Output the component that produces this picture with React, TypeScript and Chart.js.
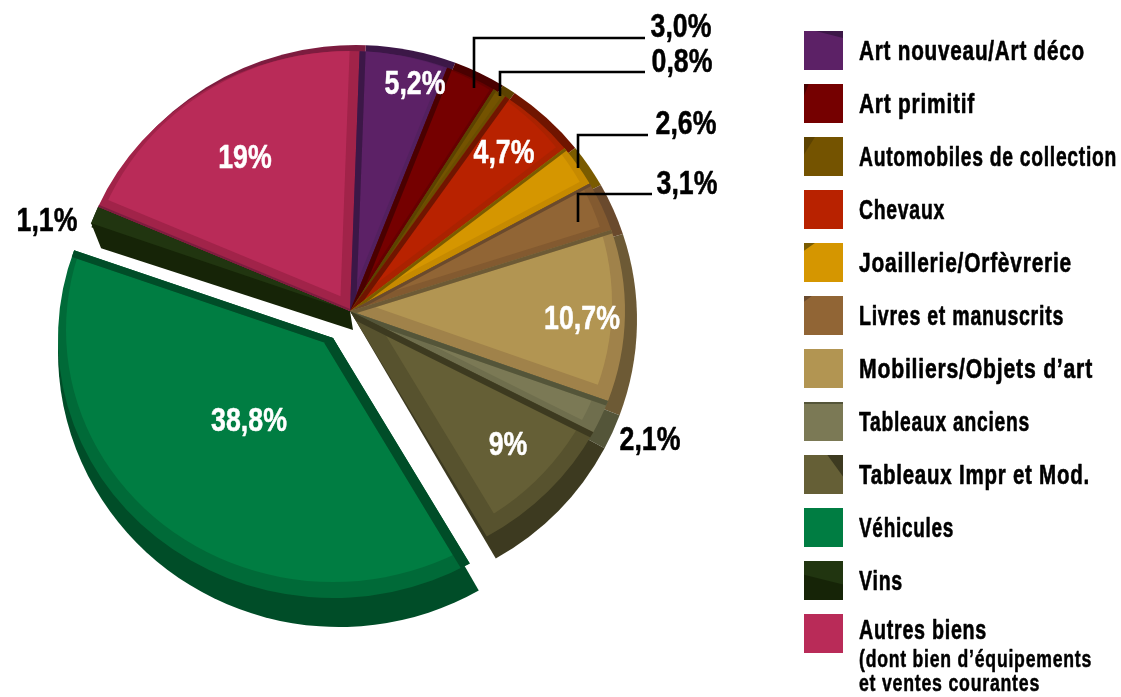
import React, { useEffect, useRef } from "react";
import { Chart, ArcElement, PieController } from "chart.js";

Chart.register(ArcElement, PieController);

const categories = [
  "Art nouveau/Art déco",
  "Art primitif",
  "Automobiles de collection",
  "Chevaux",
  "Joaillerie/Orfèvrerie",
  "Livres et manuscrits",
  "Mobiliers/Objets d’art",
  "Tableaux anciens",
  "Tableaux Impr et Mod.",
  "Véhicules",
  "Vins",
  "Autres biens",
];
const legendSubLines = ["(dont bien d’équipements", "et ventes courantes"];
const shares = [5.2, 3.0, 0.8, 4.7, 2.6, 3.1, 10.7, 2.1, 9, 38.8, 1.1, 19];
const shareLabels = ["5,2%", "3,0%", "0,8%", "4,7%", "2,6%", "3,1%", "10,7%", "2,1%", "9%", "38,8%", "1,1%", "19%"];

const faceColors = ["#5c2166", "#750000", "#745300", "#b82200", "#d59600", "#916535", "#b29552", "#7b7955", "#655f36", "#007d42", "#213510", "#b92b58"];
const bevelColors = ["#53205f", "#660000", "#6b4d00", "#aa2200", "#c68a00", "#835a30", "#a0824a", "#6f6e4d", "#57522e", "#006a38", "#213510", "#a12349"];
const darkColors = ["#3c1747", "#4a0000", "#5c4200", "#701500", "#7a5b00", "#6a4a2d", "#6d5a35", "#545539", "#3d3a20", "#004d28", "#162407", "#7d1c3f"];

// [bevel inset at start side, bevel inset at end side, dark band start, dark band end, rim inset, has side wall, extra depth]
const sliceStyle = [
  [6, 4, 6, 0, 13, 0, 0],
  [5, 3, 5, 0, 13, 0, 0],
  [3, 3, 3, 0, 13, 0, 0],
  [5, 6, 5, 0, 13, 0, 0],
  [3, 6, 3, 0, 13, 0, 0],
  [3, 6, 3, 0, 13, 0, 0],
  [4, 12, 4, 0, 13, 0, 0],
  [5, 6, 5, 0, 13, 0, 0],
  [6, 18, 6, 0, 13, 0, 0],
  [10, 7, 10, 7, 8, 0, 5],
  [0, 0, 0, 0, 0, 1, 0],
  [10, 10, 2, 0, 10, 0, 0],
];

// annotation layout: index of share, centre of its text, colour, leader polyline
const labelLayout = [
  { i: 0, x: 415, y: 85, c: "#fff" },
  { i: 1, x: 681, y: 28, c: "#000", line: [[474, 88], [474, 38], [645, 38]] },
  { i: 2, x: 682, y: 63, c: "#000", line: [[500, 96], [500, 72], [645, 72]] },
  { i: 3, x: 504, y: 154, c: "#fff" },
  { i: 4, x: 686, y: 125, c: "#000", line: [[578, 168], [578, 135], [648, 135]] },
  { i: 5, x: 687, y: 185, c: "#000", line: [[578, 222], [578, 194], [652, 194]] },
  { i: 6, x: 582, y: 320, c: "#fff" },
  { i: 7, x: 650, y: 441, c: "#000" },
  { i: 8, x: 508, y: 446, c: "#fff" },
  { i: 9, x: 249, y: 422, c: "#fff" },
  { i: 10, x: 47, y: 222, c: "#000" },
  { i: 11, x: 245, y: 159, c: "#fff" },
];

// right-hand edge of each legend line in the picture
const legendRight = [1085, 975, 1117, 945, 1072, 1064, 1093, 1030, 1090, 954, 903, 987];
const subLineRight = [1092, 1040];

const CX = 350;
const CY = 311;
const R = 275;
const SQUASH = 260 / 275;
const EXPLODED = 9;
const EXPLODE_DX = -17;
const EXPLODE_DY = 27;
const LEGEND_X = 859;
const FONT = '"Liberation Sans", sans-serif';
const LABEL_STRETCH = 0.81;

const screenCentre = (arc: any) => ({ x: arc.x, y: CY + SQUASH * (arc.y - CY) });

function wedge(ctx: CanvasRenderingContext2D, ax: number, ay: number, ex: number, ey: number, rx: number, ry: number, a0: number, a1: number) {
  ctx.beginPath();
  ctx.moveTo(ax, ay);
  ctx.ellipse(ex, ey, rx, ry, 0, a0, a1);
  ctx.closePath();
}

function paintDepth(ctx: CanvasRenderingContext2D, arc: any, i: number) {
  const c = screenCentre(arc);
  const extra = sliceStyle[i][6];
  ctx.fillStyle = darkColors[i];
  wedge(ctx, c.x, c.y, c.x + 6, c.y + 9 + extra, R + 6, R, arc.startAngle, arc.endAngle);
  ctx.fill();
  if (sliceStyle[i][5]) {
    const sx = c.x + R * Math.cos(arc.startAngle);
    const sy = c.y + R * SQUASH * Math.sin(arc.startAngle);
    const ex = c.x + R * Math.cos(arc.endAngle);
    const ey = c.y + R * SQUASH * Math.sin(arc.endAngle);
    ctx.beginPath();
    ctx.moveTo(c.x, c.y);
    ctx.lineTo(ex, ey);
    ctx.lineTo(sx, sy);
    ctx.lineTo(sx + 10, sy + 25);
    ctx.lineTo(c.x + 3, c.y + 19);
    ctx.closePath();
    ctx.fill();
  }
}

function paintFace(ctx: CanvasRenderingContext2D, arc: any, i: number) {
  const [t0, t1, b0, b1, rim] = sliceStyle[i];
  const c = screenCentre(arc);
  const a0 = arc.startAngle;
  const a1 = arc.endAngle;
  const norm = (a: number) => {
    const dx = Math.cos(a);
    const dy = SQUASH * Math.sin(a);
    const l = Math.hypot(dx, dy);
    return { x: dx / l, y: dy / l };
  };
  const d0 = norm(a0);
  const d1 = norm(a1);
  const dm = norm((a0 + a1) / 2);

  if (rim > 0) {
    const n0 = { x: -d0.y, y: d0.x };
    const n1 = { x: d1.y, y: -d1.x };
    const det = n0.x * n1.y - n0.y * n1.x;
    const ux = (t0 * n1.y - t1 * n0.y) / det;
    const uy = (n0.x * t1 - n1.x * t0) / det;
    const ax = c.x + ux;
    const ay = c.y + uy;
    ctx.save();
    ctx.beginPath();
    ctx.moveTo(ax, ay);
    ctx.lineTo(ax + d0.x * 900, ay + d0.y * 900);
    ctx.lineTo(ax + dm.x * 1800, ay + dm.y * 1800);
    ctx.lineTo(ax + d1.x * 900, ay + d1.y * 900);
    ctx.closePath();
    ctx.clip();
    ctx.fillStyle = faceColors[i];
    ctx.beginPath();
    ctx.ellipse(c.x, c.y - 8, R - rim, R * SQUASH - 8, 0, 0, Math.PI * 2);
    ctx.fill();
    ctx.restore();
  }

  if (b0 > 0 || b1 > 0) {
    ctx.save();
    wedge(ctx, c.x, c.y, c.x, c.y, R, R * SQUASH, a0, a1);
    ctx.clip();
    ctx.strokeStyle = darkColors[i];
    if (b0 > 0) {
      ctx.lineWidth = b0 * 2;
      ctx.beginPath();
      ctx.moveTo(c.x, c.y);
      ctx.lineTo(c.x + d0.x * 900, c.y + d0.y * 900);
      ctx.stroke();
    }
    if (b1 > 0) {
      ctx.lineWidth = b1 * 2;
      ctx.beginPath();
      ctx.moveTo(c.x, c.y);
      ctx.lineTo(c.x + d1.x * 900, c.y + d1.y * 900);
      ctx.stroke();
    }
    ctx.restore();
  }
}

const piePainter = {
  id: "piePainter",
  afterDatasetsUpdate(chart: any) {
    const arc = chart.getDatasetMeta(0).data[EXPLODED];
    arc.x = CX + EXPLODE_DX;
    arc.y = CY + EXPLODE_DY / SQUASH;
  },
  beforeDatasetDraw(chart: any, args: any) {
    const ctx = chart.ctx;
    args.meta.data.forEach((arc: any, i: number) => paintDepth(ctx, arc, i));
    ctx.save();
    ctx.translate(0, CY);
    ctx.scale(1, SQUASH);
    ctx.translate(0, -CY);
  },
  afterDatasetDraw(chart: any, args: any) {
    const ctx = chart.ctx;
    ctx.restore();
    args.meta.data.forEach((arc: any, i: number) => paintFace(ctx, arc, i));
  },
};

const swatchAccents: Record<number, number[][]> = {
  0: [[0.3, 0], [1, 0], [1, 0.18]],
  1: [[0, 0], [0.12, 0], [0, 0.3]],
  2: [[0, 0], [0.28, 0], [0, 0.45]],
  4: [[0, 0], [0.28, 0], [0, 0.2]],
  5: [[0, 0], [0.2, 0], [0, 0.15]],
  7: [[0, 0], [1, 0], [1, 0.05], [0, 0.05]],
  8: [[0.6, 0], [1, 0], [1, 0.55]],
  10: [[0, 0.35], [1, 0.6], [1, 1], [0, 1]],
};

function narrowText(ctx: any, text: string, x: number, y: number, stretch: number, weight: number) {
  ctx.save();
  ctx.translate(x, y);
  ctx.scale(stretch, 1);
  ctx.lineWidth = weight;
  ctx.strokeStyle = ctx.fillStyle;
  ctx.fillText(text, 0, 0);
  ctx.strokeText(text, 0, 0);
  ctx.restore();
}

const annotations = {
  id: "annotations",
  afterDraw(chart: any) {
    const ctx = chart.ctx as any;
    ctx.save();
    ctx.textBaseline = "middle";
    ctx.strokeStyle = "#000";
    ctx.lineWidth = 2.6;
    ctx.lineJoin = "miter";
    labelLayout.forEach((l) => {
      if (l.line) {
        ctx.beginPath();
        l.line.forEach((p: number[], k: number) => (k ? ctx.lineTo(p[0], p[1]) : ctx.moveTo(p[0], p[1])));
        ctx.stroke();
      }
    });
    ctx.lineJoin = "round";
    ctx.font = `bold 33px ${FONT}`;
    ctx.textAlign = "center";
    labelLayout.forEach((l) => {
      ctx.fillStyle = l.c;
      narrowText(ctx, shareLabels[l.i], l.x, l.y, LABEL_STRETCH, 0.5);
    });

    // legend
    ctx.textAlign = "left";
    ctx.font = `bold 27px ${FONT}`;
    ctx.letterSpacing = "1px";
    categories.forEach((name, i) => {
      const top = 31 + i * 53;
      ctx.fillStyle = faceColors[i];
      ctx.fillRect(804, top, 39, 39);
      const acc = swatchAccents[i];
      if (acc) {
        ctx.fillStyle = darkColors[i];
        ctx.beginPath();
        acc.forEach((p, k) => {
          const px = 804 + p[0] * 39;
          const py = top + p[1] * 39;
          k ? ctx.lineTo(px, py) : ctx.moveTo(px, py);
        });
        ctx.closePath();
        ctx.fill();
      }
      ctx.fillStyle = "#000";
      const stretch = (legendRight[i] - LEGEND_X) / ctx.measureText(name).width;
      narrowText(ctx, name, LEGEND_X, i === categories.length - 1 ? top + 18 : top + 22, stretch, 0.6);
    });
    ctx.font = `bold 23px ${FONT}`;
    legendSubLines.forEach((line, k) => {
      const stretch = (subLineRight[k] - LEGEND_X) / ctx.measureText(line).width;
      narrowText(ctx, line, LEGEND_X, 661 + k * 24, stretch, 0.5);
    });
    ctx.letterSpacing = "0px";
    ctx.restore();
  },
};

export default function App() {
  const ref = useRef<HTMLCanvasElement>(null);
  useEffect(() => {
    const chart = new Chart(ref.current as HTMLCanvasElement, {
      type: "pie",
      data: {
        labels: categories,
        datasets: [
          {
            data: shares,
            backgroundColor: bevelColors,
            borderWidth: 0,
            clip: false,
          } as any,
        ],
      },
      options: {
        responsive: false,
        animation: false,
        rotation: 2,
        radius: R,
        layout: { padding: { left: 0, top: 0, right: 1121 - 2 * CX, bottom: 697 - 2 * CY } },
        plugins: { legend: { display: false }, tooltip: { enabled: false } },
      } as any,
      plugins: [piePainter, annotations],
    });
    return () => chart.destroy();
  }, []);
  return (
    <canvas
      ref={ref}
      width={1121}
      height={697}
      style={{ position: "fixed", left: 0, top: 0, width: 1121, height: 697, background: "#fff" }}
    />
  );
}
